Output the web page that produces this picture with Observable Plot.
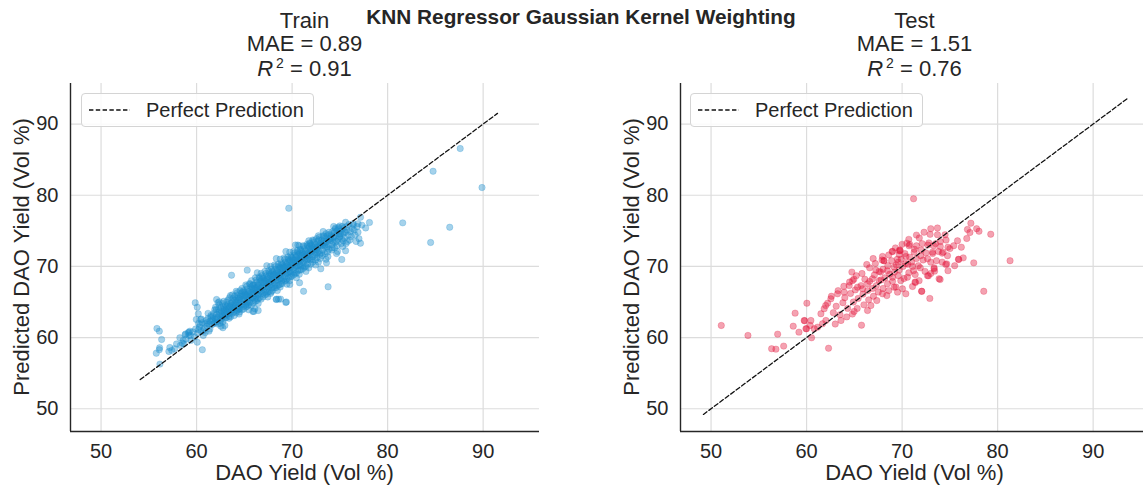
<!DOCTYPE html>
<html>
<head>
<meta charset="utf-8">
<script src="https://cdn.jsdelivr.net/npm/d3@7"></script>
<script src="https://cdn.jsdelivr.net/npm/@observablehq/plot@0.6"></script>
<style>
  html, body { margin: 0; padding: 0; background: #fff; overflow: hidden; }
  #wrap { position: relative; width: 1143px; height: 487px; overflow: hidden; font-family: "Liberation Sans", Arial, sans-serif; color: #262626; }
  .abs { position: absolute; white-space: nowrap; line-height: 1; }
  .ttl { font-size: 22px; text-align: center; width: 300px; }
  .lbl { font-size: 22px; text-align: center; width: 400px; }
  .legend { position: absolute; height: 34px; border: 1px solid #d4d4d4; border-radius: 4px; background: rgba(255,255,255,0.85); box-sizing: border-box; }
  .legend span { position: absolute; left: 64px; top: 6px; font-size: 20px; line-height: 1; }
  .legend svg { position: absolute; left: 6px; top: 14px; }
</style>
</head>
<body>
<div id="wrap"></div>
<script>
// ---- data ----
const ticks = [50, 60, 70, 80, 90];
const axisDomain = [46.8, 95.9];
const yDomain = [46.8, 95.7];
const trainLine = [54.1, 91.5];
const testLine = [49.2, 93.6];
const trainMAE = "0.89", trainR2 = "0.91";
const testMAE = "1.51", testR2 = "0.76";

// Train: [actual, predicted]
const trainOutliers = [
 [69.65,78.17],[87.6,86.56],[84.76,83.37],[89.88,81.08],[81.58,76.12],[86.5,75.5],[84.5,73.36],
 [77.16,73.26],[78.1,76.17],[77.7,75.4],[77.3,75.8],[76.9,76.0],[76.4,75.8],[77.16,76.9],[76.04,73.7],[75.6,76.2],
 [75.2,70.97],[73.77,67.13],[71.2,66.5],[70.78,67.7],[69.76,67.46],[69.34,64.93],[68.8,65.4],[68.33,65.35],
 [63.66,68.76],[65.3,69.47],[59.86,64.89],
 [55.85,61.28],[56.1,60.9],[56.34,59.73],[56.13,58.57],[55.78,57.8],[56.1,58.3],[56.16,56.27],
 [57.1,58.05],[57.4,58.2],[57.7,58.43],[58.25,59.97],[59.13,60.67],[58.67,59.13],[60.07,59.35],[60.6,58.29],
 [60.18,63.34],[59.97,62.54],[60.42,62.54],[60.07,64.27],[62.09,65.35],[62.37,65.03],[61.99,64.27],
 [62.96,61.7],[62.75,61.38],[66.1,64.05],[66.45,63.8],[65.89,63.67],
 [70.6,73.0],[68.37,65.4],[68.58,65.4],[69.4,65.0],[66.0,63.67],[73.6,70.5],[73.0,69.66]
];
const trainBand = [
 [57.2,58.6],[57.9,59.1],[58.3,58.9],[58.6,59.6],[58.85,60.5],[59.2,60.76],[59.37,60.3],[58.5,59.2],
 [58.9,59.8],[59.2,60.3],[59.4,59.6],[59.6,60.8],[59.8,60.1],[59.9,61.2],[59.3,60.9],[58.8,60.4],
 [60.1,60.6],[60.3,61.5],[60.5,60.9],[60.6,62.1],[60.8,61.3],[60.9,60.7],[60.4,61.8],[60.7,61.0],[61.0,62.4],[60.2,62.0],
 [61.1,61.6],[61.2,62.7],[61.3,61.9],[61.4,62.3],[61.5,63.1],[61.6,61.8],[61.7,62.6],[61.8,63.4],[61.9,62.1],[61.5,62.9],[61.3,60.9],[61.8,62.0],[61.9,63.9],
 [62.0,62.5],[62.1,63.3],[62.2,62.8],[62.3,64.0],[62.4,63.1],[62.5,62.4],[62.6,63.7],[62.7,63.0],[62.8,64.3],[62.9,63.5],[62.2,61.9],[62.4,64.6],[62.6,62.6],[62.8,62.9],[62.9,64.0],[62.1,62.2],[62.5,63.4],[62.7,64.8],
 [63.0,63.2],[63.1,64.1],[63.2,63.6],[63.3,64.7],[63.4,63.0],[63.5,64.3],[63.6,63.8],[63.7,65.0],[63.8,64.2],[63.9,63.6],[63.1,62.8],[63.3,65.3],[63.5,63.4],[63.6,64.8],[63.8,65.5],[63.9,64.6],[63.2,64.4],[63.4,62.7],[63.7,63.9],[63.0,64.5],
 [64.0,64.3],[64.1,65.2],[64.2,63.8],[64.3,64.9],[64.4,65.6],[64.5,64.1],[64.6,65.0],[64.7,66.2],[64.8,64.7],[64.9,65.4],[64.1,64.6],[64.3,66.0],[64.5,63.6],[64.6,65.8],[64.8,65.9],[64.9,64.4],[64.2,65.5],[64.4,64.5],[64.7,65.3],[64.0,65.8],[64.9,66.6],[64.3,63.9],
 [65.0,65.2],[65.1,66.1],[65.2,64.8],[65.3,65.7],[65.4,66.5],[65.5,65.0],[65.6,66.0],[65.7,67.1],[65.8,65.5],[65.9,66.4],[65.1,64.6],[65.3,66.8],[65.5,65.8],[65.6,64.9],[65.8,66.9],[65.9,65.6],[65.2,65.9],[65.4,65.3],[65.7,66.3],[65.0,66.4],[65.9,67.4],[65.6,67.5],[65.3,64.4],
 [66.0,66.2],[66.1,67.0],[66.2,65.7],[66.3,66.6],[66.4,67.4],[66.5,66.0],[66.6,66.9],[66.7,67.9],[66.8,66.5],[66.9,67.3],[66.1,65.4],[66.3,67.8],[66.5,66.7],[66.6,65.6],[66.8,68.1],[66.9,66.2],[66.2,66.9],[66.4,66.1],[66.7,67.0],[66.0,67.4],[66.9,68.4],[66.6,68.3],[66.3,65.2],[66.5,67.6],
 [67.0,67.1],[67.1,68.0],[67.2,66.6],[67.3,67.5],[67.4,68.4],[67.5,67.0],[67.6,67.8],[67.7,68.8],[67.8,67.4],[67.9,68.2],[67.1,66.3],[67.3,68.7],[67.5,67.7],[67.6,66.5],[67.8,69.0],[67.9,67.0],[67.2,67.9],[67.4,67.2],[67.7,67.9],[67.0,68.3],[67.9,69.3],[67.6,69.1],[67.3,66.1],[67.5,68.6],[67.8,66.4],
 [68.0,68.1],[68.1,68.9],[68.2,67.5],[68.3,68.4],[68.4,69.3],[68.5,68.0],[68.6,68.8],[68.7,69.7],[68.8,68.3],[68.9,69.2],[68.1,67.2],[68.3,69.6],[68.5,68.6],[68.6,67.4],[68.8,69.9],[68.9,68.0],[68.2,68.8],[68.4,68.1],[68.7,68.9],[68.0,69.2],[68.9,70.3],[68.6,70.0],[68.3,67.0],[68.5,69.5],[68.8,67.5],
 [69.0,69.1],[69.1,70.0],[69.2,68.5],[69.3,69.4],[69.4,70.3],[69.5,69.0],[69.6,69.8],[69.7,70.7],[69.8,69.3],[69.9,70.2],[69.1,68.2],[69.3,70.6],[69.5,69.6],[69.6,68.4],[69.8,70.9],[69.9,69.0],[69.2,69.8],[69.4,69.1],[69.7,69.9],[69.0,70.2],[69.9,71.3],[69.6,71.0],[69.3,68.0],[69.5,70.5],[69.8,68.5],
 [70.0,70.1],[70.1,71.0],[70.2,69.5],[70.3,70.4],[70.4,71.3],[70.5,70.0],[70.6,70.8],[70.7,71.7],[70.8,70.3],[70.9,71.2],[70.1,69.2],[70.3,71.6],[70.5,70.6],[70.6,69.4],[70.8,71.9],[70.9,70.0],[70.2,70.8],[70.4,70.1],[70.7,70.9],[70.0,71.2],[70.9,72.3],[70.6,72.0],[70.3,69.0],[70.5,71.5],[70.8,69.5],
 [71.0,71.0],[71.1,71.9],[71.2,70.5],[71.3,71.3],[71.4,72.2],[71.5,70.9],[71.6,71.7],[71.7,72.6],[71.8,71.2],[71.9,72.1],[71.1,70.1],[71.3,72.5],[71.5,71.5],[71.6,70.3],[71.8,72.8],[71.9,70.9],[71.2,71.7],[71.4,71.0],[71.7,71.8],[71.0,72.1],[71.9,73.2],[71.6,72.9],[71.3,69.9],
 [72.0,72.0],[72.1,72.8],[72.2,71.4],[72.3,72.3],[72.4,73.1],[72.5,71.8],[72.6,72.6],[72.7,73.5],[72.8,72.1],[72.9,73.0],[72.1,71.0],[72.3,73.4],[72.5,72.4],[72.6,71.2],[72.8,73.7],[72.9,71.7],[72.2,72.6],[72.4,71.9],[72.7,72.7],[72.0,73.0],
 [73.0,72.9],[73.1,73.7],[73.2,72.3],[73.3,73.2],[73.4,74.0],[73.5,72.7],[73.6,73.5],[73.7,74.3],[73.8,73.0],[73.9,73.8],[73.1,71.9],[73.3,74.2],[73.5,73.3],[73.7,72.0],[73.9,74.5],[73.2,72.9],[73.6,74.0],
 [74.0,73.6],[74.1,74.4],[74.2,73.1],[74.3,74.0],[74.4,74.7],[74.5,73.4],[74.6,74.3],[74.7,75.0],[74.8,73.8],[74.9,74.6],[74.2,72.6],[74.5,75.2],[74.7,72.9],[74.9,75.3],[74.3,73.5],
 [75.0,74.2],[75.1,75.0],[75.2,73.8],[75.3,74.6],[75.4,75.4],[75.5,74.0],[75.6,74.8],[75.7,75.6],[75.8,73.5],[75.9,74.4],[75.3,72.8],[75.6,72.2],[75.0,75.7],
 [76.1,74.9],[76.3,75.3],[76.6,74.4],[76.8,75.6],[77.0,73.9],[76.4,76.0]
];
const trainBand2 = [
 [60.2,61.1],[60.5,62.6],[60.9,61.9],[61.2,63.4],[61.4,61.2],[61.7,63.0],[61.1,62.1],[61.6,62.4],[60.7,60.3],[61.95,62.8],
 [62.05,63.9],[62.15,62.6],[62.35,63.6],[62.45,62.0],[62.55,64.2],[62.65,63.2],[62.75,62.2],[62.85,63.8],[62.95,62.7],[62.25,64.9],[62.55,61.6],[62.85,65.1],
 [63.05,63.8],[63.15,65.0],[63.25,63.3],[63.35,64.1],[63.45,65.6],[63.55,62.9],[63.65,64.5],[63.75,63.4],[63.85,64.0],[63.95,65.2],[63.15,63.5],[63.45,64.4],[63.75,66.0],[63.95,63.1],[63.55,65.9],
 [64.05,64.9],[64.15,63.5],[64.25,66.3],[64.35,65.3],[64.45,64.0],[64.55,66.6],[64.65,64.6],[64.75,63.9],[64.85,66.4],[64.95,65.8],[64.15,66.5],[64.45,63.3],[64.75,66.9],[64.95,64.0],[64.25,64.2],[64.55,65.5],
 [65.05,65.9],[65.15,64.3],[65.25,67.2],[65.35,66.2],[65.45,64.6],[65.55,67.6],[65.65,65.6],[65.75,64.5],[65.85,67.3],[65.95,66.8],[65.15,67.4],[65.45,63.9],[65.75,68.0],[65.95,64.9],[65.25,65.0],[65.55,66.5],[65.85,66.0],
 [66.05,66.7],[66.15,65.1],[66.25,68.1],[66.35,67.1],[66.45,65.5],[66.55,68.5],[66.65,66.5],[66.75,65.4],[66.85,68.7],[66.95,67.7],[66.15,68.4],[66.45,64.8],[66.75,69.0],[66.95,65.7],[66.25,66.2],[66.55,67.3],[66.85,67.0],[66.35,69.1],
 [67.05,67.7],[67.15,66.0],[67.25,69.0],[67.35,68.1],[67.45,66.4],[67.55,69.4],[67.65,67.4],[67.75,66.2],[67.85,69.6],[67.95,68.6],[67.15,69.3],[67.45,65.7],[67.75,70.0],[67.95,66.6],[67.25,67.1],[67.55,68.2],[67.85,67.9],[67.35,70.1],
 [68.05,68.7],[68.15,67.0],[68.25,70.0],[68.35,69.0],[68.45,67.3],[68.55,70.3],[68.65,68.3],[68.75,67.1],[68.85,70.5],[68.95,69.6],[68.15,70.2],[68.45,66.6],[68.75,71.0],[68.95,67.6],[68.25,68.0],[68.55,69.1],[68.85,68.8],[68.35,71.1],
 [69.05,69.7],[69.15,67.9],[69.25,71.0],[69.35,70.0],[69.45,68.2],[69.55,71.3],[69.65,69.2],[69.75,68.0],[69.85,71.5],[69.95,70.6],[69.15,71.2],[69.45,67.5],[69.75,72.0],[69.95,68.6],[69.25,69.0],[69.55,70.1],[69.85,69.8],[69.35,72.1],
 [70.05,70.6],[70.15,68.8],[70.25,71.9],[70.35,70.9],[70.45,69.1],[70.55,72.2],[70.65,70.1],[70.75,68.9],[70.85,72.4],[70.95,71.5],[70.15,72.1],[70.45,68.4],[70.75,72.9],[70.95,69.5],[70.25,69.9],[70.55,71.0],[70.85,70.7],[70.35,73.0],
 [71.05,71.5],[71.15,69.7],[71.25,72.8],[71.35,71.8],[71.45,70.0],[71.55,73.1],[71.65,71.0],[71.75,69.8],[71.85,73.3],[71.95,72.4],[71.15,72.9],[71.45,69.3],[71.75,73.6],[71.95,70.3],[71.25,70.8],[71.55,71.9],[71.85,71.6],
 [72.05,72.4],[72.15,70.6],[72.25,73.6],[72.35,72.7],[72.45,70.9],[72.55,73.9],[72.65,71.9],[72.75,70.6],[72.85,74.1],[72.95,73.2],[72.15,73.7],[72.45,70.2],[72.75,74.3],[72.95,71.1],[72.35,71.6],[72.65,72.8],
 [73.05,73.3],[73.15,71.5],[73.25,74.3],[73.35,73.5],[73.45,71.8],[73.55,74.6],[73.65,72.7],[73.75,71.4],[73.85,74.8],[73.95,73.9],[73.25,74.9],[73.55,71.0],[73.85,72.4],[73.45,73.0],
 [74.05,74.0],[74.15,72.3],[74.25,74.9],[74.35,74.2],[74.45,72.6],[74.55,75.4],[74.65,73.5],[74.75,72.1],[74.85,75.5],[74.95,74.1],[74.35,75.6],[74.65,71.8],
 [75.05,74.6],[75.15,73.2],[75.25,75.6],[75.45,74.8],[75.65,73.2],[75.75,75.1],[75.95,75.9],[75.35,73.6],
 [76.2,74.2],[76.5,75.1],[76.7,73.5],[76.9,74.8]
];

// Test: [actual, predicted]
const testPairs = [
 [51.07,61.7],[53.86,60.3],[56.97,60.48],[56.34,58.43],[56.79,58.37],[57.6,58.8],[62.3,58.5],[65.75,61.74],
 [71.2,79.5],[81.3,70.8],[78.55,66.5],[79.28,74.52],[77.2,76.07],[76.84,75.2],[77.1,74.76],[77.8,75.3],[78.05,74.94],[76.77,73.92],[75.93,70.97],[75.9,71.0],
 [58.8,63.43],[58.6,61.6],[59.2,60.76],[59.8,62.36],[60.03,64.83],[60.0,61.24],[60.38,61.7],[60.52,59.97],[59.93,61.24],[60.45,62.4],[59.75,62.4],
 [64.74,69.2],[64.95,68.2],[66.3,70.27],[66.97,71.1],[67.95,71.4],[68.1,70.8],[68.96,72.1],[69.8,72.2],[70.5,73.26],[70.73,72.9],
 [71.5,74.4],[72.93,74.5],[73.7,74.45],[74.5,74.45],
 [70.8,73.1],[71.5,72.9],[72.1,73.2],[72.8,73.3],[73.3,72.9],[74.0,72.8],[74.8,72.7],
 [69.0,72.1],[69.76,72.3],[69.7,71.67],[70.4,71.4],[71.26,72.0],[71.95,71.5],[72.66,71.07],[73.18,72.0],[74.2,71.85],[74.75,71.5],
 [74.2,70.6],[74.57,70.27],[67.25,69.5],[67.75,69.2],[68.46,69.4],[69.16,69.9],[69.58,70.6],[70.38,70.4],[71.08,70.0],
 [73.35,69.8],[73.4,69.33],[72.66,68.7],[73.98,68.16],[72.9,65.5],[72.04,66.5],[71.35,67.8],
 [69.0,68.48],[69.86,68.0],[70.56,68.48],[70.04,66.85],[69.16,67.08],[68.47,67.56],[67.6,68.0],[66.9,68.26],[66.38,67.56],[65.86,66.85],[65.33,67.08],[64.81,68.0],[64.46,67.3],
 [63.94,66.38],[63.24,66.15],[62.54,65.45],[62.2,64.83],[61.84,64.05],[61.5,63.34],[62.02,62.4],[61.67,61.94],[61.15,61.46],[60.8,61.24],
 [64.98,63.67],[66.38,63.8],[66.73,64.5],[67.35,65.2],[67.95,66.15],[68.6,66.6],[69.52,66.38],[70.39,66.15],[71.09,67.18],[71.78,68.0],
 [74.67,70.36],[73.35,69.66],[73.87,68.26],[72.76,68.68],[71.37,68.86],[71.4,67.74],[72.06,66.5],[69.35,67.1],[68.1,70.8],[69.7,72.2],[69.5,71.0],
 [62.8,63.5],[63.1,64.4],[63.5,63.2],[63.8,64.9],[64.0,65.6],[64.3,64.1],[64.6,66.2],[64.9,65.0],[65.1,66.7],[65.4,65.5],[65.7,67.3],[65.9,66.1],
 [66.1,68.2],[66.4,66.6],[66.6,67.9],[66.9,66.9],[67.1,68.8],[67.3,67.3],[67.6,69.3],[67.8,68.1],[68.0,69.6],[68.2,68.4],[68.5,70.1],[68.7,68.9],
 [68.9,70.8],[69.2,69.2],[69.4,70.2],[69.7,69.5],[69.9,71.0],[70.1,70.0],[70.3,71.8],[70.6,70.3],[70.8,71.3],[71.0,70.6],[71.3,72.4],[71.5,71.1],
 [71.7,70.1],[72.0,72.3],[72.2,70.9],[72.5,71.9],[72.7,73.0],[73.0,70.6],[73.2,71.8],[73.5,73.2],[73.8,72.1],[74.0,73.5],[74.3,72.0],[74.6,73.7],
 [75.0,72.5],[75.4,72.9],[75.8,73.6],[76.2,72.7],
 [63.0,61.9],[63.6,62.4],[64.2,62.9],[64.8,63.3],[65.3,64.1],[66.0,64.6],[66.5,65.3],[67.0,65.8],[67.5,66.4],[68.0,66.9],[68.4,65.9],[69.0,67.9],
 [69.6,68.7],[70.2,68.3],[70.7,69.1],[71.2,69.4],[71.9,69.8],[72.4,69.3],[73.0,69.0],[73.6,70.8],[74.8,69.4],[75.5,70.1],[76.4,71.2],[77.5,70.5],
 [62.0,64.5],[62.6,65.8],[63.3,66.6],[63.9,67.2],[64.5,67.8],[65.2,68.7],[65.8,69.0],[66.6,69.8],[67.2,70.4],[67.9,70.9],[68.6,71.6],[69.3,72.6],
 [70.0,73.1],[70.7,73.8],[71.8,74.0],[72.3,74.8],[73.0,75.3],[73.7,75.4]
];

// ---- drawing ----
const FONT = '"Liberation Sans", Arial, sans-serif';

function panel(pairs, color, lineEnds) {
  const lineData = lineEnds.map(v => ({v}));
  return Plot.plot({
    width: 560, height: 487,
    marginLeft: 70, marginRight: 21, marginTop: 83, marginBottom: 56,
    style: {fontFamily: FONT, fontSize: "20px", color: "#262626", background: "transparent", overflow: "visible"},
    x: {domain: axisDomain},
    y: {domain: yDomain},
    marks: [
      Plot.gridX(ticks, {stroke: "#dcdcdc", strokeOpacity: 1, strokeWidth: 1.2}),
      Plot.gridY(ticks, {stroke: "#dcdcdc", strokeOpacity: 1, strokeWidth: 1.2}),
      Plot.dot(pairs, {x: d => d[0], y: d => d[1], r: 3.2, fill: color, fillOpacity: 0.4, stroke: color, strokeOpacity: 0.3, strokeWidth: 0.8}),
      Plot.line(lineData, {x: "v", y: "v", stroke: "#111", strokeWidth: 1.3, strokeDasharray: "4.4,2.4"}),
      Plot.axisX(ticks, {tickSize: 0, tickPadding: 12, fontSize: 20, label: null, fill: "#262626"}),
      Plot.axisY(ticks, {tickSize: 0, tickPadding: 12, fontSize: 20, label: null, fill: "#262626"}),
      Plot.ruleX([axisDomain[0]], {stroke: "#262626", strokeWidth: 1.4}),
      Plot.ruleY([yDomain[0]], {stroke: "#262626", strokeWidth: 1.4})
    ]
  });
}

const wrap = document.getElementById("wrap");
function add(el, left, top) { el.style.position = "absolute"; el.style.left = left + "px"; el.style.top = top + "px"; wrap.appendChild(el); }

add(panel(trainOutliers.concat(trainBand, trainBand2), "#1f8fcd", trainLine), 0, 0);
add(panel(testPairs, "#e3173d", testLine), 610, 0);

function textDiv(html, cls, cx, top, w) {
  const d = document.createElement("div");
  d.className = "abs " + cls;
  d.innerHTML = html;
  d.style.left = (cx - w / 2) + "px";
  d.style.top = top + "px";
  wrap.appendChild(d);
  return d;
}

// suptitle
const sup = textDiv("KNN Regressor Gaussian Kernel Weighting", "", 581, 6.5, 600);
sup.style.fontSize = "20.8px"; sup.style.fontWeight = "bold"; sup.style.textAlign = "center"; sup.style.width = "600px";

function titles(cx, mae, r2, name) {
  textDiv(name, "ttl", cx, 9.5, 300);
  textDiv("MAE = " + mae, "ttl", cx, 33, 300);
  textDiv('<i>R</i><span style="font-size:14px;line-height:1;position:relative;top:-8px;margin-left:3px">2</span> = ' + r2, "ttl", cx, 58, 300);
}
titles(304.5, trainMAE, trainR2, "Train");
titles(914.5, testMAE, testR2, "Test");

function labels(offset) {
  textDiv("DAO Yield (Vol %)", "lbl", offset + 304.5, 462, 400);
  const y = textDiv("Predicted DAO Yield (Vol %)", "lbl", offset + 21.5, 257 - 11, 400);
  y.style.transform = "rotate(-90deg)";
}
labels(0);
labels(610);

function legend(left) {
  const d = document.createElement("div");
  d.className = "legend";
  d.style.left = left + "px"; d.style.top = "93px"; d.style.width = "233px";
  d.innerHTML = '<svg width="44" height="4"><line x1="1" y1="2" x2="42" y2="2" stroke="#111" stroke-width="1.3" stroke-dasharray="4.4,2.4"/></svg><span>Perfect Prediction</span>';
  wrap.appendChild(d);
}
legend(81);
legend(690);
</script>
</body>
</html>
